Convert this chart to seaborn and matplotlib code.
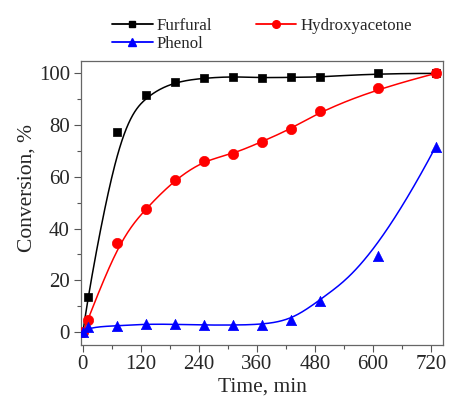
import numpy as np
import pandas as pd
import matplotlib
matplotlib.use("Agg")
import matplotlib.pyplot as plt
from matplotlib.lines import Line2D
from matplotlib.ticker import MultipleLocator
import seaborn as sns

# Reaction time (min) and conversion (%) for each compound
time_min = [0, 10, 70, 130, 190, 250, 310, 370, 430, 490, 610, 730]
furfural = [0, 13.5, 77.5, 91.5, 96.8, 98.2, 98.8, 98.3, 98.5, 98.5, 100, 100]
hydroxyacetone = [0, 4.5, 34.5, 47.7, 58.9, 66.3, 68.8, 73.6, 78.5, 85.3, 94.2, 100]
phenol = [0, 1.9, 2.4, 3.1, 3.0, 2.7, 2.7, 2.9, 4.6, 12.1, 29.5, 71.7]

series_names = ["Furfural", "Hydroxyacetone", "Phenol"]
series_values = [furfural, hydroxyacetone, phenol]
colors = {"Furfural": "black", "Hydroxyacetone": "#ff0000", "Phenol": "#0000ff"}
markers = {"Furfural": "s", "Hydroxyacetone": "o", "Phenol": "^"}
msizes = {"Furfural": 40, "Hydroxyacetone": 55, "Phenol": 55}


def bspline_curve(xs, ys, samples=400):
    """Clamped uniform cubic B-spline using the data points as control points."""
    P = np.column_stack([xs, ys]).astype(float)
    n = len(P)
    k = 3
    inner = np.arange(1, n - k)
    knots = np.concatenate([np.zeros(k + 1), inner, np.full(k + 1, n - k)]).astype(float)
    u = np.linspace(0, n - k, samples)
    u[-1] -= 1e-9

    def basis(i, p, u):
        if p == 0:
            return np.where((knots[i] <= u) & (u < knots[i + 1]), 1.0, 0.0)
        left = 0.0
        right = 0.0
        d1 = knots[i + p] - knots[i]
        d2 = knots[i + p + 1] - knots[i + 1]
        if d1 > 0:
            left = (u - knots[i]) / d1 * basis(i, p - 1, u)
        if d2 > 0:
            right = (knots[i + p + 1] - u) / d2 * basis(i + 1, p - 1, u)
        return left + right

    B = np.array([basis(i, k, u) for i in range(n)])
    curve = B.T @ P
    return curve[:, 0], curve[:, 1]


points = pd.DataFrame({
    "time": np.tile(time_min, len(series_names)),
    "conversion": np.concatenate(series_values),
    "compound": np.repeat(series_names, len(time_min)),
})

curve_frames = []
for name, vals in zip(series_names, series_values):
    cx, cy = bspline_curve(time_min, vals)
    curve_frames.append(pd.DataFrame({"time": cx, "conversion": cy, "compound": name}))
curves = pd.concat(curve_frames, ignore_index=True)

sns.set_style("ticks")
plt.rcParams["font.family"] = ["Liberation Serif", "DejaVu Serif"]

fig = plt.figure(figsize=(4.49, 3.96), dpi=100)
ax = fig.add_axes([81 / 449, 1 - 345 / 396, (443 - 81) / 449, (345 - 61) / 396])

sns.lineplot(data=curves, x="time", y="conversion", hue="compound", palette=colors,
             sort=False, estimator=None, linewidth=1.1, legend=False, ax=ax)
for name in series_names:
    sub = points[points["compound"] == name]
    sns.scatterplot(data=sub, x="time", y="conversion", color=colors[name],
                    marker=markers[name], s=msizes[name], edgecolor=colors[name],
                    linewidth=0.5, legend=False, ax=ax, zorder=3)

ax.set_xlim(-4, 745)
ax.set_ylim(-5, 104.8)
ax.xaxis.set_major_locator(MultipleLocator(120))
ax.xaxis.set_minor_locator(MultipleLocator(60))
ax.yaxis.set_major_locator(MultipleLocator(20))
ax.yaxis.set_minor_locator(MultipleLocator(10))
ax.tick_params(axis="both", which="major", length=5, width=0.8, color="#555555",
               labelsize=15, pad=3)
ax.tick_params(axis="x", which="major", pad=2)
ax.tick_params(axis="both", which="minor", length=3, width=0.8, color="#555555")
for side in ["top", "right", "left", "bottom"]:
    ax.spines[side].set_visible(True)
    ax.spines[side].set_color("#666666")
    ax.spines[side].set_linewidth(0.9)

ax.set_xlabel("Time, min", fontsize=15.5, labelpad=2.5)
ax.set_ylabel("Conversion, %", fontsize=15.5)
ax.yaxis.set_label_coords(-0.122, 0.553)

# Legend filled column-wise: Furfural / Phenol in the first column, Hydroxyacetone in the second
order = ["Furfural", "Phenol", "Hydroxyacetone"]
legend_ms = {"Furfural": 4.5, "Hydroxyacetone": 5.5, "Phenol": 5.5}
handles = [Line2D([0], [0], color=colors[n], marker=markers[n], markersize=legend_ms[n],
                  linewidth=1.3) for n in order]
fig.legend(handles, order, loc="upper left", bbox_to_anchor=(0.238, 0.968), ncol=2,
           frameon=False, fontsize=12.2, handlelength=2.4, handletextpad=0.25,
           columnspacing=2.55, labelspacing=0.15, borderaxespad=0, borderpad=0.3)

fig.savefig("out.png", dpi=100)
